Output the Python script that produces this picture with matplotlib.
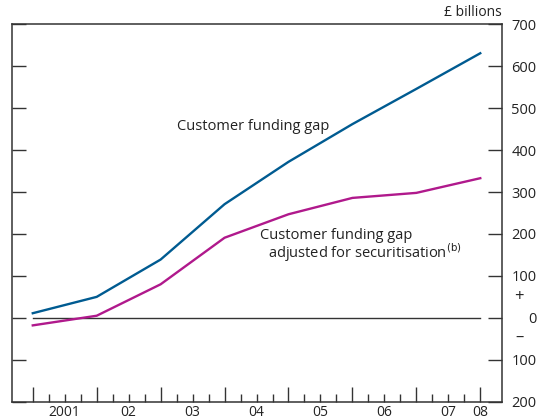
import numpy as np
import matplotlib
matplotlib.use("Agg")
import matplotlib.pyplot as plt
from matplotlib.ticker import FuncFormatter, MultipleLocator

# one point per year-end, last point mid-2008
pos = [0, 1, 2, 3, 4, 5, 6, 7]
gap = [11, 50, 139, 271, 372, 462, 546, 631]
gap_adj = [-18, 5, 80, 191, 247, 286, 298, 333]
year_labels = ["2001", "02", "03", "04", "05", "06", "07", "08"]
year_label_pos = [0.5, 1.5, 2.5, 3.5, 4.5, 5.5, 6.5, 7]

blue = "#005b91"
magenta = "#b0198c"
dark = "#333333"
txt = "#222222"

plt.rcParams["font.family"] = ["Open Sans", "DejaVu Sans"]
plt.rcParams["font.size"] = 10

fig = plt.figure(figsize=(5.43, 4.2), dpi=100)
ax = fig.add_axes([0.0215, 0.0436, 0.9030, 0.8985])

# zero line only spans the data
ax.plot([pos[0], pos[-1]], [0, 0], color=dark, lw=1.0)
ax.plot(pos, gap, color=blue, lw=1.7)
ax.plot(pos, gap_adj, color=magenta, lw=1.7)

ax.set_xlim(-0.33, 7.34)
ax.set_ylim(-200, 700)

for s in ax.spines.values():
    s.set_color(dark)
    s.set_linewidth(1.1)

ax.yaxis.set_major_locator(MultipleLocator(100))
ax.yaxis.set_major_formatter(FuncFormatter(lambda v, p: "%d" % abs(v)))
ax.tick_params(axis="y", which="major", direction="in", left=True, right=True,
               labelleft=False, labelright=True, length=10, width=1.0,
               color=dark, pad=25, labelsize=10.5, labelcolor=txt)
for lab in ax.get_yticklabels():
    lab.set_horizontalalignment("right")

ax.set_xticks(pos)
ax.set_xticks(np.arange(0, 7.01, 0.25), minor=True)
ax.set_xticklabels([])
ax.tick_params(axis="x", which="major", direction="in", length=11, width=1.0,
               color=dark, top=False)
ax.tick_params(axis="x", which="minor", direction="in", length=5.5, width=1.0,
               color=dark, top=False)
for x, t in zip(year_label_pos, year_labels):
    ax.text(x, -0.029, t, transform=ax.get_xaxis_transform(), ha="center",
            va="center", fontsize=10, color=txt)

ax.text(1.0, 1.012, "£ billions", transform=ax.transAxes, ha="right",
        va="bottom", fontsize=10, color=txt)
ax.text(1.035, 50, "+", transform=ax.get_yaxis_transform(), ha="center",
        va="center", fontsize=12, color=txt)
ax.text(1.035, -48, "–", transform=ax.get_yaxis_transform(), ha="center",
        va="center", fontsize=12, color=txt)

ax.text(2.26, 457, "Customer funding gap", ha="left", va="center",
        fontsize=10.5, color=txt)
ax.text(3.56, 197, "Customer funding gap", ha="left", va="center",
        fontsize=10.5, color=txt)
ax.text(3.68, 155, "adjusted for securitisation$^{\\rm (b)}$", ha="left",
        va="center", fontsize=10.5, color=txt)

fig.savefig("out.png", dpi=100)
